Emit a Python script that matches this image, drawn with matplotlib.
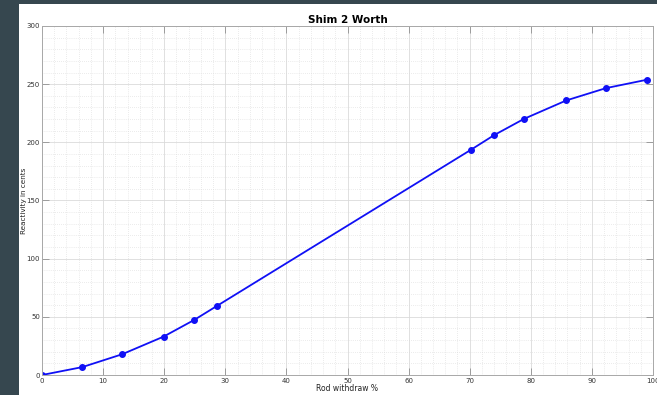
import matplotlib
matplotlib.use('Agg')
import matplotlib.pyplot as plt
from matplotlib.patches import Rectangle
from matplotlib.ticker import MultipleLocator

# rod withdraw (%) vs reactivity (cents)
withdraw = [0, 6.6, 13.1, 19.9, 24.9, 28.7, 70.2, 74.0, 78.9, 85.8, 92.3, 99.0]
reactivity = [0, 6.8, 17.8, 33.0, 47.3, 59.6, 193.6, 206.2, 220.2, 236.0, 246.6, 253.8]

W, H = 657, 395
fig = plt.figure(figsize=(W / 100, H / 100), dpi=100)
fig.patch.set_facecolor('#36474f')
# white figure panel (the dark strip is the window behind it)
panel = Rectangle((19 / W, 0), 1 - 19 / W, 1 - 4 / H,
                  transform=fig.transFigure, facecolor='white',
                  edgecolor='none', zorder=-10)
fig.add_artist(panel)

ax = fig.add_axes([42 / W, 20 / H, 611 / W, 349 / H])
ax.plot(withdraw, reactivity, '-o', color='#1010f5', lw=1.3, ms=4)

ax.set_xlim(0, 100)
ax.set_ylim(0, 300)
ax.xaxis.set_major_locator(MultipleLocator(10))
ax.xaxis.set_minor_locator(MultipleLocator(2))
ax.yaxis.set_major_locator(MultipleLocator(50))
ax.yaxis.set_minor_locator(MultipleLocator(10))

ax.grid(which='major', color='#dadada', lw=0.6)
ax.grid(which='minor', color='#d8d8d8', lw=0.5, ls=(0, (1, 2)))
ax.set_axisbelow(True)

for s in ax.spines.values():
    s.set_color('#a8a8a8')
    s.set_linewidth(0.7)
ax.tick_params(which='both', direction='in', top=True, right=True,
               colors='#909090', labelcolor='#333333', labelsize=5)
ax.tick_params(which='major', length=5, width=0.6)
ax.tick_params(which='minor', length=0)
ax.tick_params(axis='x', pad=2)
ax.tick_params(axis='y', pad=1.5)

ax.set_title('Shim 2 Worth', fontsize=7.5, fontweight='bold', pad=2.5)
ax.set_xlabel('Rod withdraw %', fontsize=5.5, labelpad=0.5, color='#222222')
ax.set_ylabel('Reactivity in cents', fontsize=5.2, color='#222222')
ax.yaxis.set_label_coords(-0.024, 0.5)

fig.savefig('out.png', dpi=100, facecolor=fig.get_facecolor())
